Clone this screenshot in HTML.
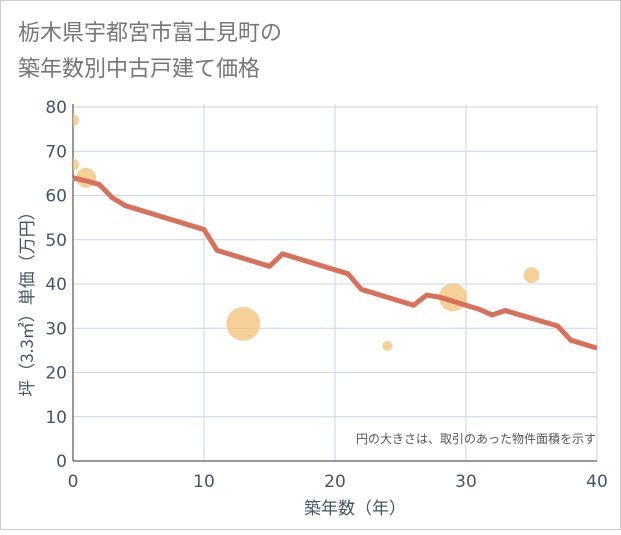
<!DOCTYPE html>
<html><head><meta charset="utf-8"><style>
body{margin:0;background:#fff;}
svg text{font-family:"DejaVu Sans","Noto Sans CJK JP",sans-serif;}
</style></head><body>
<svg width="621" height="530" xmlns="http://www.w3.org/2000/svg">
<defs><clipPath id="plotclip"><rect x="73" y="100" width="524" height="361"/></clipPath></defs>
<rect x="0.5" y="0.5" width="620" height="529" fill="#fff" stroke="#ccc"/>
<text x="18" y="40" font-size="22" fill="#777" style="font-family:'Noto Sans CJK JP',sans-serif">栃木県宇都宮市富士見町の</text>
<text x="18" y="76" font-size="22" fill="#777" style="font-family:'Noto Sans CJK JP',sans-serif">築年数別中古戸建て価格</text>
<g id="grid"></g>
<g id="bubbles" clip-path="url(#plotclip)"></g>
<path id="line" fill="none" stroke="#d9705a" stroke-width="5" stroke-linejoin="round"/>
<g id="ticks"></g>
<text x="596" y="443" font-size="12" fill="#555" text-anchor="end" style="font-family:'Noto Sans CJK JP',sans-serif">円の大きさは、取引のあった物件面積を示す</text>
<text x="355" y="514" font-size="17" fill="#456" text-anchor="middle" style="font-family:'Noto Sans CJK JP',sans-serif">築年数（年）</text>
<text transform="translate(33,300) rotate(-90)" font-size="17" fill="#456" text-anchor="middle" style="font-family:'Noto Sans CJK JP',sans-serif">坪（3.3㎡）単価（万円）</text>
</svg>
<script>
const xTicks=[0,10,20,30,40];
const yTicks=[0,10,20,30,40,50,60,70,80];
const lineX=[0,1,2,3,4,10,11,15,16,21,22,26,27,28,31,32,33,37,38,40];
const lineY=[64,63.3,62.5,59.5,57.7,52.3,47.6,44,46.8,42.3,38.8,35.2,37.5,37,34.3,33,34,30.5,27.3,25.5];
const bubX=[0,0,1,13,24,29,35];
const bubY=[77,67,64,31,26,37,42];
const bubR=[6,6,10,17,5,14,8];
const X=v=>73+v*13.1, Y=v=>461-v*4.425;
const ns="http://www.w3.org/2000/svg";
const g=document.getElementById('grid'), t=document.getElementById('ticks'), b=document.getElementById('bubbles');
function mk(tag,attrs,parent){const e=document.createElementNS(ns,tag);for(const k in attrs)e.setAttribute(k,attrs[k]);parent.appendChild(e);return e;}
yTicks.forEach(v=>{
 const l=mk('line',{x1:73,x2:597,y1:Y(v),y2:Y(v),stroke:'#c8d6e4','stroke-width':1},g);
 
 
 const tx=mk('text',{x:67,y:Y(v)+6,'font-size':17,fill:'#456','text-anchor':'end'},t);
 tx.textContent=v;
 
 
});
xTicks.forEach(v=>{
 const l=mk('line',{x1:X(v),x2:X(v),y1:Y(80)-3,y2:Y(0),stroke:'#c8d6e4','stroke-width':1},g);
 
 
 const tx=mk('text',{x:X(v),y:487,'font-size':17,fill:'#456','text-anchor':'middle'},t);
 tx.textContent=v;
 
 
});
const ax=mk('line',{x1:73,x2:73,y1:Y(80)-3,y2:Y(0),stroke:'#333','stroke-width':1},g);


const ax2=mk('line',{x1:73,x2:597,y1:Y(0),y2:Y(0),stroke:'#333','stroke-width':1},g);


bubX.forEach((v,i)=>{
 const c=mk('circle',{cx:X(v),cy:Y(bubY[i]),r:bubR[i],fill:'#f3c57f','fill-opacity':0.8},b);
 
 
});
document.getElementById('line').setAttribute('d',lineX.map((v,i)=>(i?'L':'M')+X(v)+','+Y(lineY[i])).join(' '));
</script>
</body></html>
